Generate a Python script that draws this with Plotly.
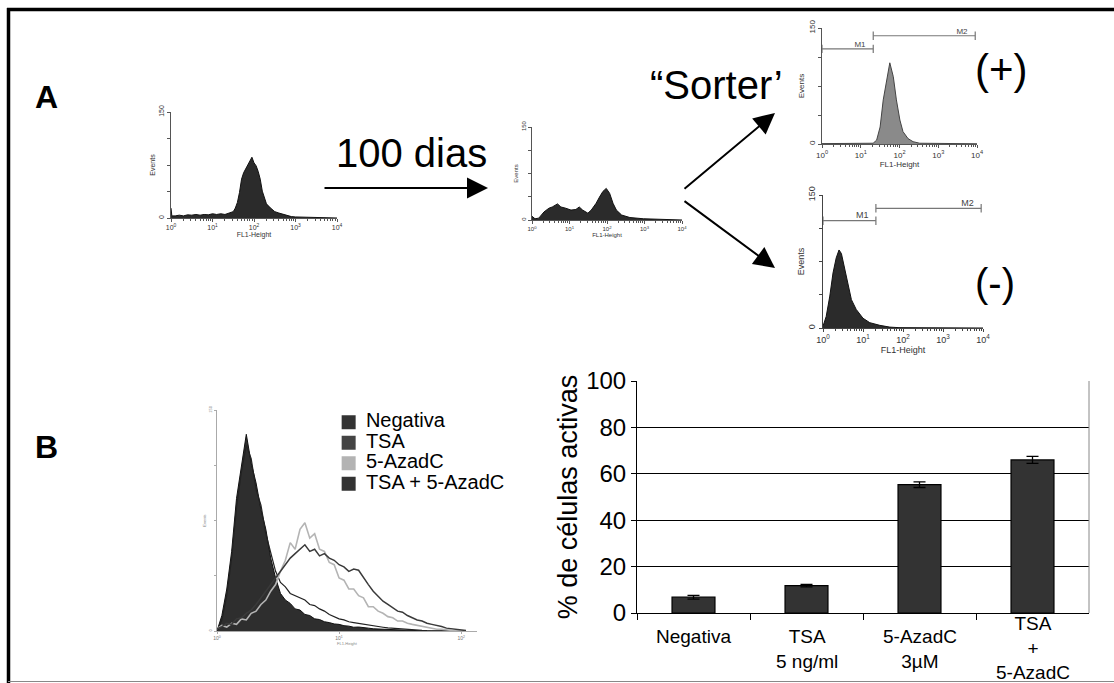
import plotly.graph_objects as go

W, H = 1114, 683
FONT = "Liberation Sans, Arial, sans-serif"

# ---------------- Data ----------------
# Panel A histograms: log10(FL1-Height) positions and event counts
h1_log = [0.00, 0.02, 0.1, 0.2, 0.3, 0.4, 0.5, 0.6, 0.7, 0.8, 0.9, 1.0, 1.1, 1.2, 1.3, 1.4, 1.5, 1.55,
          1.6, 1.65, 1.7, 1.75, 1.8, 1.85, 1.9, 1.95, 2.0, 2.05, 2.1, 2.15, 2.2, 2.25, 2.3, 2.4, 2.5,
          2.6, 2.7, 2.8, 2.9, 3.0, 3.2, 3.5, 3.8, 4.0]
h1_cnt = [14, 3, 3, 4, 3, 4.5, 4, 5, 4, 5, 4.5, 6, 5, 6, 5, 7, 9, 14,
          22, 36, 55, 64, 70, 76, 80, 86, 78, 74, 66, 55, 38, 28, 20, 14, 9,
          7, 5, 3, 2, 1.5, 1, 0.5, 0.2, 0]

h2_log = [0.00, 0.08, 0.18, 0.32, 0.45, 0.54, 0.68, 0.77, 0.90, 1.04, 1.17, 1.26, 1.35, 1.49, 1.58,
          1.71, 1.80, 1.89, 1.98, 2.07, 2.16, 2.25, 2.39, 2.61, 2.97, 3.42, 4.0]
h2_cnt = [6, 2, 3, 13, 19, 21, 26, 21, 19, 16, 17, 21, 16, 11, 16,
          27, 37, 46, 51, 43, 27, 16, 8, 4, 2, 1, 0]

pos_log = [0.0, 0.5, 1.0, 1.32, 1.41, 1.5, 1.58, 1.67, 1.75, 1.84, 1.92, 2.01, 2.09, 2.22, 2.35, 2.52, 3.0, 4.0]
pos_cnt = [0.5, 0.5, 0.5, 1, 5, 22, 57, 83, 105, 87, 57, 31, 16, 7, 3, 1, 0.5, 0.3]

neg_log = [0.0, 0.08, 0.17, 0.25, 0.33, 0.4, 0.46, 0.54, 0.63, 0.71, 0.83, 1.0, 1.17, 1.42, 1.67, 1.9, 4.0]
neg_cnt = [2, 13, 36, 62, 79, 88, 84, 66, 47, 32, 21, 11, 6, 3, 1, 0.4, 0]

# Gates (M1 / M2): FL1 start, end, marker level
gate_names = ["M1", "M2"]
pos_gate_start = [1, 21]
pos_gate_end = [21, 9000]
pos_gate_level = [123, 140]
neg_gate_start = [1, 21]
neg_gate_end = [21, 9000]
neg_gate_level = [121, 135]

# Panel B overlay histograms (log10 FL1 grid and counts)
b_log = [0.00, 0.04, 0.08, 0.12, 0.16, 0.20, 0.24, 0.28, 0.32, 0.36, 0.40, 0.44, 0.48,
         0.52, 0.56, 0.60, 0.64, 0.68, 0.72, 0.76, 0.80, 0.84, 0.88, 0.92, 0.96, 1.00,
         1.04, 1.08, 1.12, 1.16, 1.20, 1.24, 1.28, 1.32, 1.36, 1.40, 1.44, 1.48, 1.52,
         1.56, 1.60, 1.64, 1.68, 1.72, 1.76, 1.80, 1.84, 1.88, 1.92, 1.96, 2.00, 2.04]
b_negativa = [0, 7, 19, 36, 60, 75, 89, 76, 67, 55, 46, 33, 24,
              17, 14, 12.5, 10, 9.5, 7.5, 7, 5.5, 5.2, 4.2, 3.8, 3.2, 3,
              2.4, 2.2, 1.7, 1.8, 1.4, 1.3, 1.0, 0.9, 0.6, 0.6, 0.4, 0.3, 0.3,
              0.2, 0.2, 0.1, 0, 0, 0, 0, 0, 0, 0, 0, 0, 0]
b_tsa = [0, 5, 16, 33, 56, 72, 84, 78, 64, 57, 44, 35, 27,
         22, 20, 17, 16, 15, 14, 12, 11.5, 10, 9, 7.5, 6.5, 5.5,
         5, 4.2, 3.8, 3.4, 3, 2.8, 2.3, 2, 1.7, 1.4, 1.2, 1, 0.8,
         0.6, 0.5, 0.4, 0.3, 0.2, 0.2, 0.1, 0.1, 0, 0, 0, 0, 0]
b_aza = [1, 2.5, 1.8, 3.5, 3, 5.5, 5, 8, 9, 12, 14, 18, 21,
         27, 32, 40, 37, 46, 49, 42, 44, 37, 36, 31, 30, 24,
         23, 19, 19, 16, 15, 11, 11, 9, 8, 6.5, 6, 4.5, 4.5,
         3.5, 3, 2.5, 2, 1.5, 1.2, 0.8, 0.8, 0.4, 0.3, 0.2, 0.1, 0]
b_tsa_aza = [1, 2, 3.5, 3, 5.5, 6, 8, 9.5, 12, 15, 18, 21, 24,
             27, 30, 33, 35, 37, 39, 36, 37, 34, 35, 33, 32, 30,
             29, 27, 28, 27.5, 24, 21, 18, 15.5, 13.5, 12, 10.5, 9, 8.5,
             7, 6, 5, 4.5, 3.5, 3, 2.6, 2, 1.3, 1, 0.6, 0.4, 0.2]

legend_labels = ["Negativa", "TSA", "5-AzadC", "TSA + 5-AzadC"]
legend_colors = ["#333333", "#444444", "#b3b3b3", "#333333"]

# Bar chart
bar_cats = ["Negativa", "TSA 5 ng/ml", "5-AzadC 3µM", "TSA + 5-AzadC"]
bar_labels = ["Negativa", "TSA<br>5 ng/ml", "5-AzadC<br>3µM", "TSA<br>+<br>5-AzadC"]
bar_vals = [6.8, 11.8, 55.3, 66.0]
bar_err = [0.8, 0.5, 1.2, 1.5]

dec_vals = [1, 10, 100, 1000, 10000]
dec_text = ["10<sup>0</sup>", "10<sup>1</sup>", "10<sup>2</sup>", "10<sup>3</sup>", "10<sup>4</sup>"]


def dx(a, b):
    return [a / W, b / W]


def dy(top, bottom):
    return [1 - bottom / H, 1 - top / H]


def pow10(arr):
    return [10 ** v for v in arr]


fig = go.Figure()

# ---- Panel A histograms ----
hists = [
    (1, h1_log, h1_cnt, "#2b2b2b", "#111111"),
    (2, h2_log, h2_cnt, "#2b2b2b", "#111111"),
    (3, pos_log, pos_cnt, "#8a8a8a", "#444444"),
    (4, neg_log, neg_cnt, "#2b2b2b", "#111111"),
]
for idx, lg, cnt, fc, lc in hists:
    sfx = "" if idx == 1 else str(idx)
    fig.add_trace(go.Scatter(x=pow10(lg), y=cnt, mode="lines", fill="tozeroy",
                             fillcolor=fc, line=dict(color=lc, width=1),
                             xaxis="x" + sfx, yaxis="y" + sfx, showlegend=False,
                             hoverinfo="skip"))

# gates
for idx, gs, ge, gl, fs in [(3, pos_gate_start, pos_gate_end, pos_gate_level, 8),
                            (4, neg_gate_start, neg_gate_end, neg_gate_level, 9)]:
    for name, s, e, lvl in zip(gate_names, gs, ge, gl):
        fig.add_trace(go.Scatter(x=[s, e], y=[lvl, lvl], mode="lines+markers",
                                 line=dict(color="#777777", width=1.2),
                                 marker=dict(symbol="line-ns", size=6,
                                             line=dict(color="#777777", width=1.2)),
                                 xaxis="x%d" % idx, yaxis="y%d" % idx, showlegend=False,
                                 hoverinfo="skip"))
        fig.add_trace(go.Scatter(x=[e / 2.2], y=[lvl], mode="text", text=[name],
                                 textposition="top center",
                                 textfont=dict(size=fs, color="#444444", family=FONT),
                                 xaxis="x%d" % idx, yaxis="y%d" % idx, showlegend=False,
                                 hoverinfo="skip"))

# ---- Panel B overlay ----
bx = pow10(b_log)
fig.add_trace(go.Scatter(x=bx, y=b_negativa, mode="lines", fill="tozeroy", fillcolor="#2e2e2e",
                         line=dict(color="#111111", width=1), xaxis="x5", yaxis="y5",
                         showlegend=False, hoverinfo="skip"))
fig.add_trace(go.Scatter(x=bx, y=b_tsa, mode="lines", line=dict(color="#222222", width=1.2),
                         xaxis="x5", yaxis="y5", showlegend=False, hoverinfo="skip"))
fig.add_trace(go.Scatter(x=bx, y=b_aza, mode="lines", line=dict(color="#b4b4b4", width=1.6),
                         xaxis="x5", yaxis="y5", showlegend=False, hoverinfo="skip"))
fig.add_trace(go.Scatter(x=bx, y=b_tsa_aza, mode="lines", line=dict(color="#3a3a3a", width=1.5),
                         xaxis="x5", yaxis="y5", showlegend=False, hoverinfo="skip"))

# legend drawn on its own hidden axis
leg_rows = list(range(len(legend_labels) - 1, -1, -1))
fig.add_trace(go.Scatter(x=[0] * len(legend_labels), y=leg_rows, mode="markers",
                         marker=dict(symbol="square", size=14, color=legend_colors),
                         xaxis="x7", yaxis="y7", showlegend=False, hoverinfo="skip"))
fig.add_trace(go.Scatter(x=[0.9] * len(legend_labels), y=leg_rows, mode="text",
                         text=legend_labels, textposition="middle right",
                         textfont=dict(size=20, color="#000000", family=FONT),
                         xaxis="x7", yaxis="y7", showlegend=False, hoverinfo="skip"))

# ---- Bar chart ----
fig.add_trace(go.Bar(x=bar_cats, y=bar_vals, width=0.38,
                     marker=dict(color="#333333", line=dict(color="#000000", width=1.2)),
                     error_y=dict(type="data", array=bar_err, visible=True, color="#000000",
                                  thickness=1.3, width=6),
                     xaxis="x6", yaxis="y6", showlegend=False, hoverinfo="skip"))


def hist_axes(idx, xdom, ydom, fs, lc):
    sfx = "" if idx == 1 else str(idx)
    xa = dict(domain=xdom, type="log", range=[0, 4], tickmode="array", tickvals=dec_vals,
              ticktext=dec_text, ticks="outside", ticklen=3, tickwidth=1, tickcolor=lc,
              showline=True, linecolor=lc, linewidth=1, showgrid=False, zeroline=False,
              tickfont=dict(size=fs, color="#333333", family=FONT),
              title=dict(text="FL1-Height", font=dict(size=fs, color="#333333", family=FONT),
                         standoff=1),
              minor=dict(ticks="outside", ticklen=1.5, tickcolor=lc, dtick="D1", showgrid=False),
              anchor="y" + sfx, fixedrange=True, automargin=False)
    ya = dict(domain=ydom, range=[0, 150], tickmode="array",
              tickvals=[0, 37.5, 75, 112.5, 150], ticktext=["0", "", "", "", "150"],
              tickangle=-90, ticks="outside", ticklen=3, tickwidth=1, tickcolor=lc,
              showline=True, linecolor=lc, linewidth=1, showgrid=False, zeroline=False,
              tickfont=dict(size=fs, color="#333333", family=FONT),
              title=dict(text="Events", font=dict(size=fs, color="#333333", family=FONT),
                         standoff=1),
              anchor="x" + sfx, fixedrange=True, automargin=False)
    return ("xaxis" + sfx, xa), ("yaxis" + sfx, ya)


layout_axes = {}
for args in [(1, dx(171, 337), dy(112, 218), 7, "#555555"),
             (2, dx(532, 682), dy(127, 220), 6, "#555555"),
             (3, dx(822, 977), dy(28, 144), 8, "#555555"),
             (4, dx(823, 983), dy(195, 328), 9, "#444444")]:
    (kx, vx), (ky, vy) = hist_axes(*args)
    layout_axes[kx] = vx
    layout_axes[ky] = vy

layout_axes["xaxis5"] = dict(domain=dx(217, 477), type="log", range=[0, 2.13], tickmode="array",
                             tickvals=[1, 10, 100], ticktext=dec_text[:3], ticks="outside",
                             ticklen=2, tickcolor="#aaaaaa", showline=True, linecolor="#aaaaaa",
                             showgrid=False, zeroline=False,
                             tickfont=dict(size=5, color="#777777", family=FONT),
                             title=dict(text="FL1-Height", font=dict(size=4, color="#888888"),
                                        standoff=0),
                             anchor="y5", fixedrange=True, automargin=False)
layout_axes["yaxis5"] = dict(domain=dy(410, 631), range=[0, 100], tickmode="array",
                             tickvals=[0, 25, 50, 75, 100], ticktext=["0", "", "", "", "150"],
                             tickangle=-90, ticks="outside", ticklen=2, tickcolor="#aaaaaa",
                             showline=True, linecolor="#aaaaaa", showgrid=False, zeroline=False,
                             tickfont=dict(size=4, color="#777777", family=FONT),
                             title=dict(text="Events", font=dict(size=4, color="#777777"),
                                        standoff=2),
                             anchor="x5", fixedrange=True, automargin=False)

layout_axes["xaxis6"] = dict(domain=dx(637, 1089), type="category", categoryorder="array",
                             categoryarray=bar_cats, showticklabels=False, ticks="outside",
                             tickson="boundaries", ticklen=6, tickcolor="#000000",
                             showline=True, linecolor="#000000", linewidth=1, showgrid=False,
                             anchor="y6", fixedrange=True, automargin=False)
layout_axes["yaxis6"] = dict(domain=dy(381, 613), range=[0, 100], dtick=20, ticks="outside",
                             ticklen=5, tickcolor="#000000", showline=True, linecolor="#000000",
                             linewidth=1, showgrid=True, gridcolor="#000000", gridwidth=1,
                             zeroline=False,
                             tickfont=dict(size=24, color="#000000", family=FONT),
                             title=dict(text="% de células activas",
                                        font=dict(size=27, color="#000000", family=FONT),
                                        standoff=0),
                             anchor="x6", fixedrange=True, automargin=False)

layout_axes["xaxis7"] = dict(domain=dx(341, 540), range=[-0.4, 10], visible=False,
                             anchor="y7", fixedrange=True)
layout_axes["yaxis7"] = dict(domain=dy(412, 494), range=[-0.5, 3.5], visible=False,
                             anchor="x7", fixedrange=True)

annotations = []
# bar category labels
for cat, lab in zip(bar_cats, bar_labels):
    n_lines = lab.count("<br>") + 1
    top = 624 if n_lines < 3 else 611
    annotations.append(dict(x=cat, xref="x6", y=1 - top / H, yref="paper", text=lab,
                            showarrow=False, yanchor="top", xanchor="center",
                            font=dict(size=19, color="#000000", family=FONT)))

# panel texts
texts = [
    ("A", 46, 97, 32, True),
    ("B", 46, 447, 32, True),
    ("100 dias", 411, 153, 40, False),
    ("(+)", 1001, 70, 42, False),
    ("(-)", 995, 283, 40, False),
]
for t, x, y, s, b in texts:
    annotations.append(dict(x=x / W, y=1 - y / H, xref="paper", yref="paper",
                            text="<b>%s</b>" % t if b else t, showarrow=False,
                            xanchor="center", yanchor="middle",
                            font=dict(size=s, color="#000000", family=FONT)))
annotations.append(dict(x=785 / W, y=1 - 85 / H, xref="paper", yref="paper",
                        text="\u201cSorter\u2019", showarrow=False, xanchor="right",
                        yanchor="middle", font=dict(size=40, color="#000000", family=FONT)))

# arrows (tip, tail)
for tip, tail in [((488, 188), (323, 188)), ((775, 113), (683, 190)), ((775, 268), (683, 200))]:
    annotations.append(dict(x=tip[0] / W, y=1 - tip[1] / H, xref="paper", yref="paper",
                            ax=tail[0] - tip[0], ay=tail[1] - tip[1], text="",
                            showarrow=True, arrowhead=2, arrowsize=2.1, arrowwidth=2,
                            arrowcolor="#000000"))

shapes = [
    dict(type="line", xref="paper", yref="paper", x0=7 / W, x1=1, y0=1 - 9.5 / H, y1=1 - 9.5 / H,
         line=dict(color="#000000", width=3.5)),
    dict(type="line", xref="paper", yref="paper", x0=8.5 / W, x1=8.5 / W, y0=0, y1=1 - 8 / H,
         line=dict(color="#000000", width=3.5)),
    dict(type="line", xref="paper", yref="paper", x0=8 / W, x1=1, y0=1 - 681.5 / H,
         y1=1 - 681.5 / H, line=dict(color="#888888", width=1)),
    dict(type="line", xref="x6 domain", yref="y6 domain", x0=1, x1=1, y0=0, y1=1,
         line=dict(color="#888888", width=1)),
]

fig.update_layout(width=W, height=H,
                  margin=dict(l=0, r=0, t=0, b=0, pad=0, autoexpand=False),
                  paper_bgcolor="#ffffff", plot_bgcolor="rgba(0,0,0,0)",
                  font=dict(family=FONT, color="#000000"), showlegend=False,
                  annotations=annotations, shapes=shapes, **layout_axes)

fig.write_html("out.html")
